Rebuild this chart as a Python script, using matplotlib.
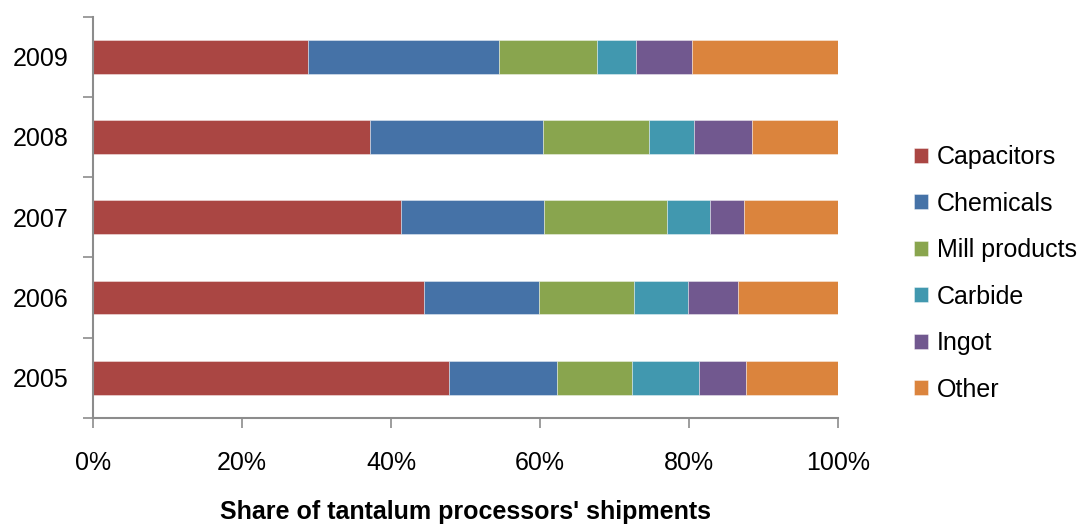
import matplotlib
matplotlib.use("Agg")
import matplotlib.pyplot as plt
import numpy as np

plt.rcParams['font.family'] = ['Liberation Sans', 'DejaVu Sans']

years = ['2005', '2006', '2007', '2008', '2009']
series = ['Capacitors', 'Chemicals', 'Mill products', 'Carbide', 'Ingot', 'Other']
capacitors = [47.8, 44.4, 41.3, 37.1, 28.8]
chemicals = [14.5, 15.5, 19.3, 23.3, 25.7]
mill_products = [10.1, 12.8, 16.4, 14.2, 13.1]
carbide = [8.9, 7.2, 5.9, 6.1, 5.3]
ingot = [6.4, 6.7, 4.5, 7.8, 7.5]
other = [12.3, 13.4, 12.6, 11.5, 19.6]
colors = ['#AA4643', '#4572A7', '#89A54E', '#4198AF', '#71588F', '#DB843D']

data = [capacitors, chemicals, mill_products, carbide, ingot, other]

fig = plt.figure(figsize=(10.83, 5.24), dpi=100)
ax = fig.add_axes([0.0862, 0.2023, 0.6873, 0.7662])

y = np.arange(len(years))
left = np.zeros(len(years))
for name, vals, c in zip(series, data, colors):
    vals = np.array(vals)
    ax.barh(y, vals, left=left, height=0.42, color=c, label=name,
            edgecolor=(1, 1, 1, 0.45), linewidth=0.6)
    left += vals

ax.set_xlim(0, 100)
ax.set_ylim(-0.5, 4.5)
ax.set_xticks(np.arange(0, 101, 20))
ax.set_xticklabels(['%d%%' % v for v in range(0, 101, 20)], fontsize=18)
ax.set_yticks(y)
ax.set_yticklabels(years, fontsize=18)
ax.set_yticks(np.arange(-0.5, 5, 1), minor=True)

gray = '#8c8c8c'
ax.tick_params(axis='y', which='major', length=0, pad=18)
ax.tick_params(axis='y', which='minor', length=7, width=1.2, color=gray)
ax.tick_params(axis='x', length=7, width=1.2, color=gray, pad=17)
for s in ['top', 'right']:
    ax.spines[s].set_visible(False)
for s in ['left', 'bottom']:
    ax.spines[s].set_color(gray)
    ax.spines[s].set_linewidth(1.5)

ax.set_xlabel("Share of tantalum processors' shipments", fontsize=18,
              fontweight='bold', labelpad=18)

ax.legend(loc='center left', bbox_to_anchor=(1.089, 0.36), frameon=False,
          fontsize=18, handlelength=0.56, handleheight=0.56,
          handletextpad=0.36, labelspacing=0.9, borderaxespad=0)

fig.savefig('out.png', dpi=100)
